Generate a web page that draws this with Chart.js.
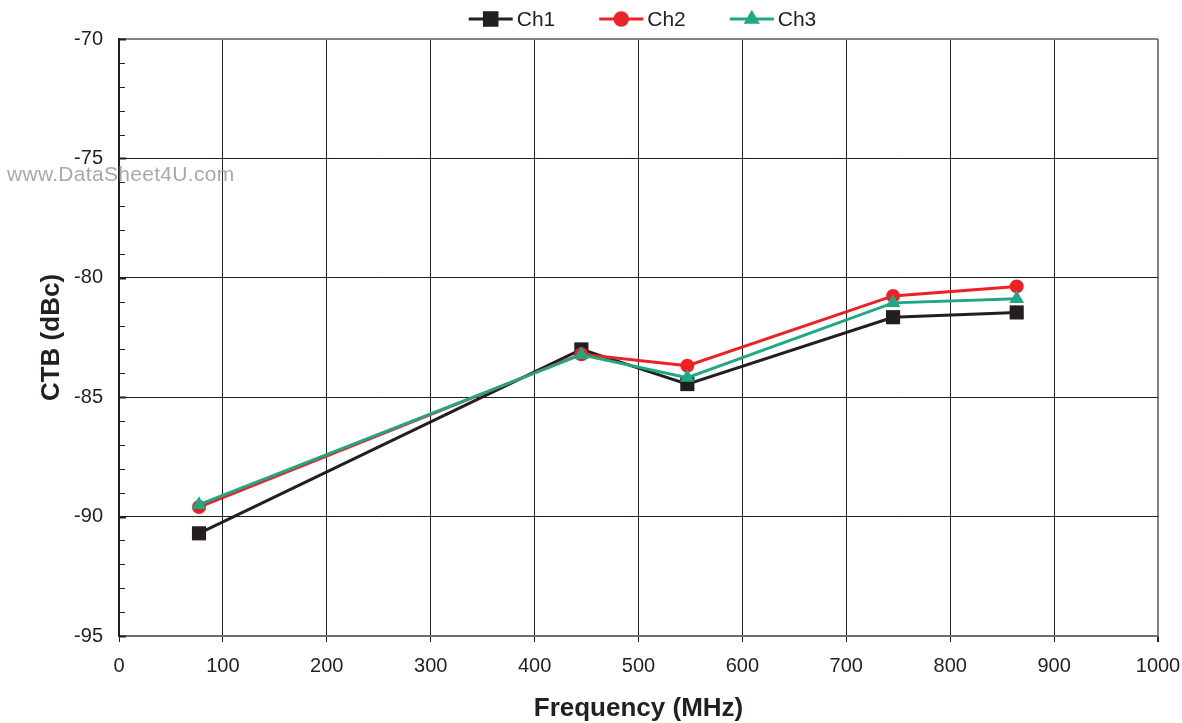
<!DOCTYPE html>
<html>
<head>
<meta charset="utf-8">
<script src="https://cdn.jsdelivr.net/npm/chart.js@4.4.1/dist/chart.umd.min.js"></script>
<style>
    html, body { margin: 0; padding: 0; background: #fff; }
    #wrap { position: relative; width: 1182px; height: 723px; }
    #mark {
        position: absolute; left: 7px; top: 162px;
        font: 21px "Liberation Sans", Arial, sans-serif;
        letter-spacing: 0.3px;
        color: #a7a9ac; white-space: nowrap;
    }
</style>
</head>
<body>
<div id="wrap">
    <canvas id="chart" width="1182" height="723"></canvas>
    <div id="mark">www.DataSheet4U.com</div>
</div>
<script>
// --- 데이터
const freqs = [77, 445, 547, 745, 864];           // MHz
const ch1   = [-90.7, -83.0, -84.45, -81.65, -81.45];
const ch2   = [-89.6, -83.2, -83.68, -80.76, -80.36];
const ch3   = [-89.5, -83.22, -84.18, -81.05, -80.88];

const seriesNames  = ["Ch1", "Ch2", "Ch3"];
const seriesColors = ["#231f20", "#ec2127", "#1fa882"];
const seriesShapes = ["rect", "circle", "triangle"];
const seriesRadius = [10, 7, 8.5];

const FONT = '"Liberation Sans", Arial, sans-serif';
const INK  = "#231f20";
const EDGE = "#808285";

function toPoints(ys) {
    return freqs.map((f, i) => ({ x: f, y: ys[i] }));
}

function marker(ctx, shape, x, y, r) {
    ctx.beginPath();
    if (shape === "rect") {
        const s = r * Math.SQRT1_2;
        ctx.rect(x - s, y - s, 2 * s, 2 * s);
    } else if (shape === "circle") {
        ctx.arc(x, y, r, 0, Math.PI * 2);
    } else {
        ctx.moveTo(x, y - r);
        ctx.lineTo(x + r * 0.866, y + r / 2);
        ctx.lineTo(x - r * 0.866, y + r / 2);
        ctx.closePath();
    }
    ctx.fill();
}

// 위쪽 범례: 선 + 마커 + 이름
const legendPlugin = {
    id: "lineLegend",
    afterDraw(chart) {
        const ctx = chart.ctx;
        const area = chart.chartArea;
        ctx.save();
        ctx.font = "21px " + FONT;
        const lineW = 44, gap = 4, between = 44;
        const sets = chart.data.datasets;
        const widths = sets.map(ds => ctx.measureText(ds.label).width);
        const total = widths.reduce((s, w) => s + lineW + gap + w, 0)
                    + between * (sets.length - 1);
        let x = (area.left + area.right) / 2 + 4 - total / 2;
        const y = 19;
        sets.forEach((ds, i) => {
            ctx.strokeStyle = ds.borderColor;
            ctx.fillStyle = ds.borderColor;
            ctx.lineWidth = 3;
            ctx.beginPath();
            ctx.moveTo(x, y);
            ctx.lineTo(x + lineW, y);
            ctx.stroke();
            marker(ctx, ds.pointStyle, x + lineW / 2, y, ds.pointRadius * 1.1);
            ctx.fillStyle = INK;
            ctx.textBaseline = "middle";
            ctx.fillText(ds.label, x + lineW + gap, y + 1);
            x += lineW + gap + widths[i] + between;
        });
        ctx.restore();
    },
};

// 왼쪽 축 안쪽 눈금 (1 dB 간격)
const minorTicks = {
    id: "minorTicks",
    afterDatasetsDraw(chart) {
        const ctx = chart.ctx;
        const ys = chart.scales.y;
        const left = chart.chartArea.left;
        ctx.save();
        ctx.strokeStyle = INK;
        for (let v = ys.min; v <= ys.max; v++) {
            const py = Math.round(ys.getPixelForValue(v)) + 0.5;
            const major = v % 5 === 0;
            ctx.lineWidth = major ? 2 : 1;
            ctx.beginPath();
            ctx.moveTo(left, py);
            ctx.lineTo(left + (major ? 7 : 6), py);
            ctx.stroke();
        }
        ctx.restore();
    },
};

const datasets = [ch1, ch2, ch3].map((ys, i) => ({
    label: seriesNames[i],
    data: toPoints(ys),
    borderColor: seriesColors[i],
    backgroundColor: seriesColors[i],
    pointStyle: seriesShapes[i],
    pointRadius: seriesRadius[i],
    pointBorderWidth: 0,
    borderWidth: 3,
    showLine: true,
    order: 2 - i,          // Ch3가 맨 위
}));

new Chart(document.getElementById("chart"), {
    type: "scatter",
    data: { datasets },
    options: {
        responsive: false,
        animation: false,
        layout: { padding: { top: 39, right: 24, left: 0, bottom: 0 } },
        plugins: {
            legend: { display: false },
            tooltip: { enabled: false },
        },
        scales: {
            x: {
                type: "linear",
                min: 0, max: 1000,
                afterFit: s => {
                    s.height = 87;
                    s.paddingLeft = 0;
                    s.paddingRight = 0;
                },
                ticks: {
                    stepSize: 100,
                    color: INK,
                    padding: 12,
                    font: { family: FONT, size: 20 },
                    callback: v => String(v),
                },
                grid: {
                    color: c => c.tick && c.tick.value === 1000 ? EDGE : INK,
                    lineWidth: c => c.tick && c.tick.value === 1000 ? 2 : 1,
                    tickColor: INK,
                    tickLength: 6,
                },
                border: { color: "#6d6e71", width: 2 },
                title: {
                    display: true,
                    text: "Frequency (MHz)",
                    color: INK,
                    padding: { top: 0, bottom: 0 },
                    font: { family: FONT, size: 26, weight: "bold", lineHeight: 1.1 },
                },
            },
            y: {
                min: -95, max: -70,
                afterFit: s => { s.width = 119; },
                ticks: {
                    stepSize: 5,
                    color: INK,
                    padding: 16,
                    font: { family: FONT, size: 20 },
                },
                grid: {
                    color: c => c.tick && c.tick.value === -70 ? EDGE : INK,
                    lineWidth: c => c.tick && c.tick.value === -70 ? 2 : 1,
                    drawTicks: false,
                },
                border: { color: INK, width: 2 },
                title: {
                    display: true,
                    text: "CTB (dBc)",
                    color: INK,
                    padding: { top: 38, bottom: 0 },
                    font: { family: FONT, size: 26, weight: "bold", lineHeight: 1.1 },
                },
            },
        },
    },
    plugins: [legendPlugin, minorTicks],
});
</script>
</body>
</html>
